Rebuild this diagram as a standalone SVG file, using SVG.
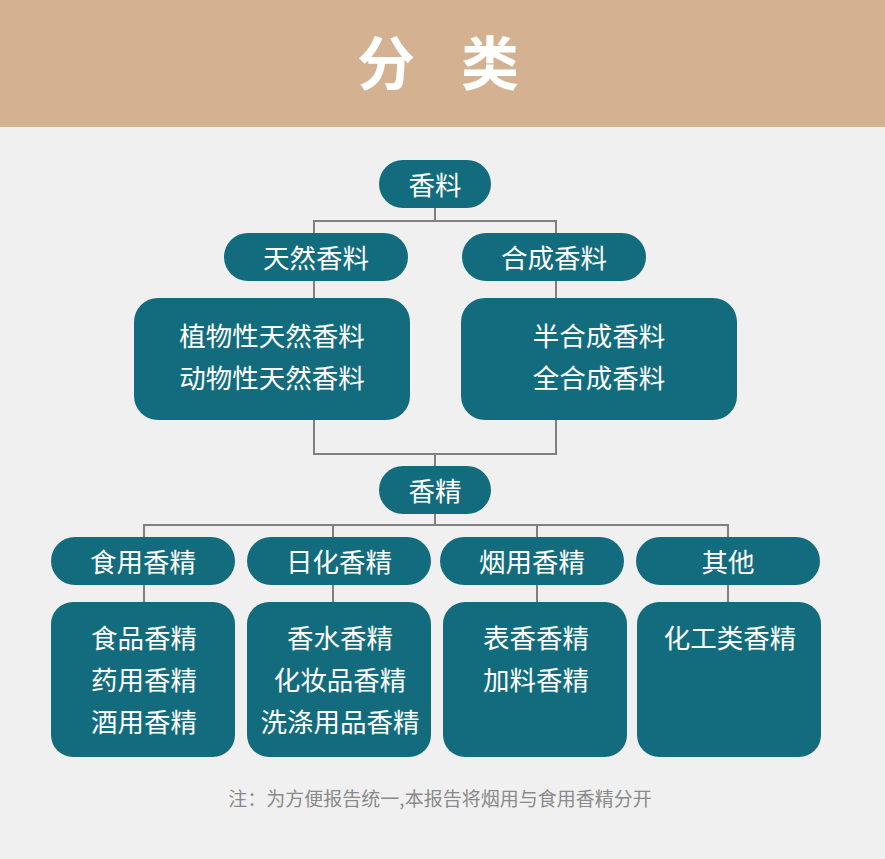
<svg xmlns="http://www.w3.org/2000/svg" width="885" height="859" viewBox="0 0 885 859">
<style>
.n{fill:#136C7E}
.t{fill:#fff;font-family:"Noto Sans CJK SC","Noto Sans",sans-serif;font-size:26.5px;text-anchor:middle;dominant-baseline:central}
.c{fill:none;stroke:#808080;stroke-width:2}
.h{fill:#fff;font-family:"Noto Sans CJK SC",sans-serif;font-size:58px;font-weight:bold;text-anchor:middle;dominant-baseline:central}
</style>
<rect x="0" y="0" width="885" height="859" fill="#F0F0F0"/>
<rect x="0" y="0" width="885" height="127" fill="#D4B190"/>
<text class="h" x="386" y="60">分</text>
<text class="h" x="490" y="60">类</text>
<g id="connectors" class="c">
<path d="M435 208V221M314 233V221H556V233"/>
<path d="M314 281V298M556 281V298"/>
<path d="M314 420V454H556V420M435 454V466"/>
<path d="M435 514V525M144 537V525H728V537M333 525V537M537 525V537"/>
<path d="M144 585V602M333 585V602M537 585V602M728 585V602"/>
</g>
<g id="xiangliao"><rect class="n" x="379" y="160" width="112" height="48" rx="24"/><text class="t" x="435" y="183">香料</text></g>
<g id="tianran"><rect class="n" x="224" y="233" width="184" height="48" rx="24"/><text class="t" x="316" y="256">天然香料</text></g>
<g id="hecheng"><rect class="n" x="462" y="233" width="184" height="48" rx="24"/><text class="t" x="554" y="256">合成香料</text></g>
<g id="tianran-box"><rect class="n" x="134" y="298" width="276" height="122" rx="24"/><text class="t" x="272" y="334">植物性天然香料</text><text class="t" x="272" y="376">动物性天然香料</text></g>
<g id="hecheng-box"><rect class="n" x="461" y="298" width="276" height="122" rx="24"/><text class="t" x="599" y="334">半合成香料</text><text class="t" x="599" y="376">全合成香料</text></g>
<g id="xiangjing"><rect class="n" x="379" y="466" width="112" height="48" rx="24"/><text class="t" x="435" y="489">香精</text></g>
<g id="shiyong"><rect class="n" x="51" y="537" width="184" height="48" rx="24"/><text class="t" x="143" y="560">食用香精</text></g>
<g id="rihua"><rect class="n" x="247" y="537" width="184" height="48" rx="24"/><text class="t" x="339" y="560">日化香精</text></g>
<g id="yanyong"><rect class="n" x="440" y="537" width="184" height="48" rx="24"/><text class="t" x="532" y="560">烟用香精</text></g>
<g id="qita"><rect class="n" x="636" y="537" width="184" height="48" rx="24"/><text class="t" x="728" y="560">其他</text></g>
<g id="shiyong-box"><rect class="n" x="51" y="602" width="184" height="155" rx="22"/><text class="t" x="144" y="636">食品香精</text><text class="t" x="144" y="678">药用香精</text><text class="t" x="144" y="720">酒用香精</text></g>
<g id="rihua-box"><rect class="n" x="247" y="602" width="184" height="155" rx="22"/><text class="t" x="340" y="636">香水香精</text><text class="t" x="340" y="678">化妆品香精</text><text class="t" x="340" y="720">洗涤用品香精</text></g>
<g id="yanyong-box"><rect class="n" x="443" y="602" width="184" height="155" rx="22"/><text class="t" x="536" y="636">表香香精</text><text class="t" x="536" y="678">加料香精</text></g>
<g id="qita-box"><rect class="n" x="637" y="602" width="184" height="155" rx="22"/><text class="t" x="730" y="636">化工类香精</text></g>
<text x="440" y="797" fill="#8a8a8a" font-family="'Noto Sans CJK SC',sans-serif" font-size="19" text-anchor="middle" dominant-baseline="central">注：为方便报告统一,本报告将烟用与食用香精分开</text>
</svg>
